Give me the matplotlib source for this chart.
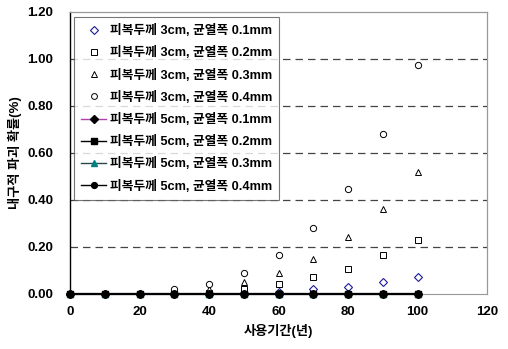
import matplotlib
matplotlib.use("Agg")
import matplotlib.pyplot as plt
import numpy as np

plt.rcParams['font.family'] = ['Liberation Sans', 'Noto Sans CJK KR']
plt.rcParams['font.weight'] = 'bold'

years = [0, 10, 20, 30, 40, 50, 60, 70, 80, 90, 100]

labels = [
    "피복두께 3cm, 균열폭 0.1mm",
    "피복두께 3cm, 균열폭 0.2mm",
    "피복두께 3cm, 균열폭 0.3mm",
    "피복두께 3cm, 균열폭 0.4mm",
    "피복두께 5cm, 균열폭 0.1mm",
    "피복두께 5cm, 균열폭 0.2mm",
    "피복두께 5cm, 균열폭 0.3mm",
    "피복두께 5cm, 균열폭 0.4mm",
]

c3_01 = [0, 0, 0, 0, 0, 0.003, 0.01, 0.02, 0.03, 0.05, 0.07]
c3_02 = [0, 0, 0, 0, 0.005, 0.02, 0.04, 0.07, 0.107, 0.165, 0.23]
c3_03 = [0, 0, 0, 0.005, 0.02, 0.05, 0.09, 0.15, 0.24, 0.36, 0.52]
c3_04 = [0, 0, 0, 0.02, 0.04, 0.09, 0.165, 0.28, 0.447, 0.68, 0.976]
c5_01 = [0, 0, 0, 0, 0, 0, 0, 0, 0, 0, 0]
c5_02 = [0, 0, 0, 0, 0, 0, 0, 0, 0, 0, 0]
c5_03 = [0, 0, 0, 0, 0, 0, 0, 0, 0, 0, 0]
c5_04 = [0, 0, 0, 0, 0, 0, 0, 0, 0, 0, 0]

xticks = [0, 20, 40, 60, 80, 100, 120]
yticks = [0.0, 0.2, 0.4, 0.6, 0.8, 1.0, 1.2]

fig = plt.figure(figsize=(5.08, 3.49), dpi=100)
ax = fig.add_axes([0.138, 0.158, 0.821, 0.808])

for yv in yticks[1:-1]:
    ax.axhline(yv, color='#444444', lw=0.9, ls=(0, (6, 4)), zorder=1)

ms = 4.5
ax.plot(years, c3_01, ls='none', marker='D', ms=3.6, mfc='white', mec='#1a1a9a', mew=0.8,
        label=labels[0], clip_on=False, zorder=3)
ax.plot(years, c3_02, ls='none', marker='s', ms=ms, mfc='white', mec='black', mew=0.7,
        label=labels[1], clip_on=False, zorder=3)
ax.plot(years, c3_03, ls='none', marker='^', ms=ms, mfc='white', mec='black', mew=0.7,
        label=labels[2], clip_on=False, zorder=3)
ax.plot(years, c3_04, ls='none', marker='o', ms=ms, mfc='white', mec='black', mew=0.7,
        label=labels[3], clip_on=False, zorder=3)
ax.plot(years, c5_01, color='#b040b0', lw=1.5, marker='D', ms=4, mfc='black', mec='black',
        label=labels[4], clip_on=False, zorder=4)
ax.plot(years, c5_02, color='black', lw=1.5, marker='s', ms=5, mfc='black', mec='black',
        label=labels[5], clip_on=False, zorder=4)
ax.plot(years, c5_03, color='#2a4a4a', lw=1.5, marker='^', ms=5, mfc='#008080', mec='#008080',
        label=labels[6], clip_on=False, zorder=4)
ax.plot(years, c5_04, color='black', lw=1.5, marker='o', ms=5, mfc='black', mec='black',
        label=labels[7], clip_on=False, zorder=5)

ax.set_xlim(0, 120)
ax.set_ylim(0, 1.2)
ax.set_xticks(xticks)
ax.set_yticks(yticks)
ax.set_xticklabels([str(v) for v in xticks], fontsize=9.5, fontweight='bold')
ax.set_yticklabels([f"{v:.2f}" for v in yticks], fontsize=9.5, fontweight='bold')
ax.tick_params(length=0, pad=12)
ax.tick_params(axis='x', pad=9)

for s in ['top', 'right']:
    ax.spines[s].set_color('#999999')
    ax.spines[s].set_linewidth(0.9)
ax.spines['bottom'].set_color('#999999')
ax.spines['left'].set_color('black')
ax.spines['left'].set_linewidth(1.0)

ax.set_xlabel("사용기간(년)", fontsize=9.5, fontweight='bold', labelpad=4)
ax.set_ylabel("내구적 파괴 확률(%)", fontsize=9.5, fontweight='bold', labelpad=4)

leg = ax.legend(loc='upper left', bbox_to_anchor=(0.003, 0.99),
                prop={'weight': 'bold', 'size': 9.2}, frameon=True, fancybox=False,
                shadow=False, edgecolor='#555555', labelspacing=0.72, handlelength=2.0,
                handletextpad=0.25, borderpad=0.55, borderaxespad=0.2)
leg.get_frame().set_linewidth(0.8)
for h in leg.legend_handles:
    try:
        h.set_linewidth(1.0)
        h.set_markersize(min(h.get_markersize(), 4.2))
    except Exception:
        pass

fig.savefig("out.png", dpi=100)
